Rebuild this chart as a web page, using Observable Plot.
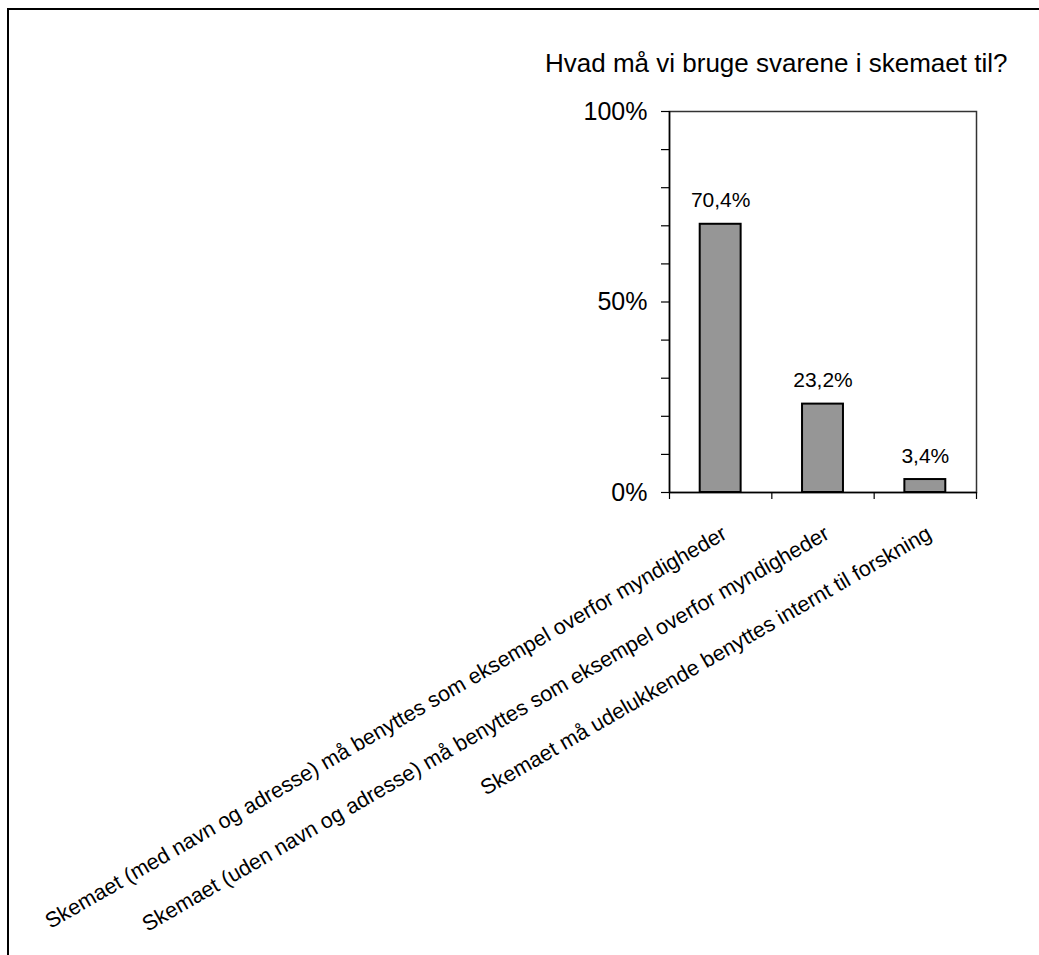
<!DOCTYPE html>
<html><head><meta charset="utf-8">
<script src="https://cdn.jsdelivr.net/npm/d3@7"></script>
<script src="https://cdn.jsdelivr.net/npm/@observablehq/plot@0.6"></script>
<style>
html,body{margin:0;padding:0;background:#fff;overflow:hidden;}
#wrap{position:relative;width:1039px;height:955px;overflow:hidden;font-family:"Liberation Sans",Arial,sans-serif;background:#fff;}
#border{position:absolute;left:7px;top:8px;width:1200px;height:1200px;border-left:2px solid #000;border-top:2px solid #000;}
#title{position:absolute;left:545px;top:50px;font-size:26px;line-height:1;color:#000;white-space:nowrap;}
#chart{position:absolute;left:0;top:0;}
</style></head><body>
<div id="wrap"><div id="border"></div><div id="title"></div><div id="chart"></div></div>
<script>
const title = "Hvad må vi bruge svarene i skemaet til?";
const categories = [
  "Skemaet (med navn og adresse) må benyttes som eksempel overfor myndigheder",
  "Skemaet (uden navn og adresse) må benyttes som eksempel overfor myndigheder",
  "Skemaet må udelukkende benyttes internt til forskning"
];
const values = [70.4, 23.2, 3.4];
const yTicks = [0, 10, 20, 30, 40, 50, 60, 70, 80, 90, 100];
const yTickLabels = ["0%", "", "", "", "", "50%", "", "", "", "", "100%"];

document.getElementById("title").textContent = title;

const data = categories.map((c, i) => ({category: c, index: i, value: values[i]}));
const yLabel = new Map(yTicks.map((t, i) => [t, yTickLabels[i]]));
const fmt = v => v.toFixed(1).replace(".", ",") + "%";
const xBoundaries = d3.range(0, categories.length + 1);

const chart = Plot.plot({
  width: 1039, height: 955,
  marginLeft: 669, marginRight: 63, marginTop: 111, marginBottom: 463,
  style: {fontFamily: '"Liberation Sans", Arial, sans-serif', background: "transparent", color: "#000", overflow: "visible", fontSize: "25px"},
  x: {domain: [0, categories.length], axis: null},
  y: {domain: [0, 100], axis: null},
  marks: [
    Plot.frame({stroke: "#333", strokeWidth: 1.5}),
    Plot.rect(data, {x1: d => d.index + 0.3, x2: d => d.index + 0.7, y1: 0, y2: "value", fill: "#969696", stroke: "#000", strokeWidth: 2}),
    Plot.ruleX([0], {stroke: "#000", strokeWidth: 1.5}),
    Plot.ruleY([0], {stroke: "#000", strokeWidth: 1.5}),
    Plot.axisY({ticks: yTicks, tickSize: 8, tickPadding: 14, tickFormat: d => yLabel.get(d) ?? "", fontSize: 25, strokeWidth: 1.2, label: null}),
    Plot.axisX({ticks: xBoundaries, tickSize: 7, tickFormat: () => "", strokeWidth: 1.2, label: null}),
    Plot.text(data, {x: d => d.index + 0.5, y: "value", text: d => fmt(d.value), lineAnchor: "bottom", dy: -17, fontSize: 21, fill: "#000"}),
    Plot.text(data, {x: d => d.index + 0.5, y: 0, text: "category", rotate: -30, textAnchor: "end", lineAnchor: "top", dy: 32, fontSize: 21.5, fill: "#000"})
  ]
});
document.getElementById("chart").appendChild(chart);
</script>
</body></html>
